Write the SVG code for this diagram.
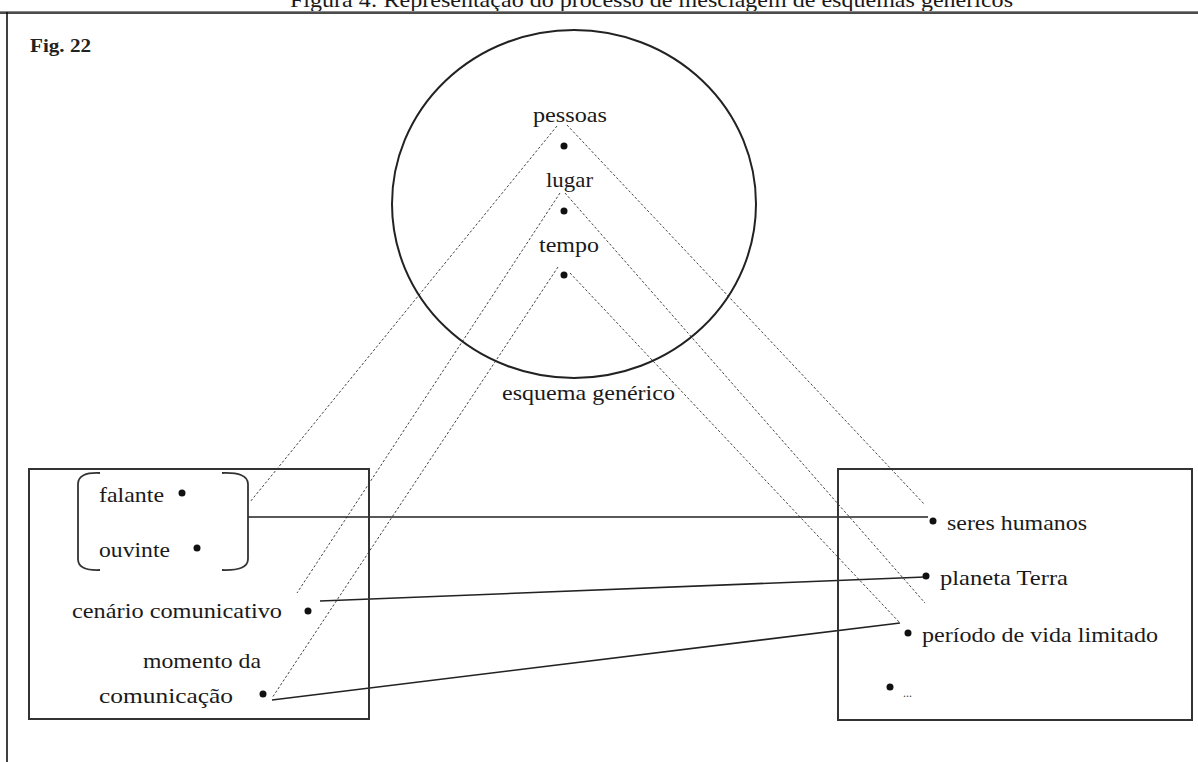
<svg xmlns="http://www.w3.org/2000/svg" width="1198" height="762" viewBox="0 0 1198 762">
<style>
.t{font-family:"Liberation Serif","Times New Roman",serif;font-size:21px;fill:#1a1a1a}
.dot{fill:#111}
.dash{stroke:#444;stroke-width:1;stroke-dasharray:2.5,2;fill:none}
.solid{stroke:#222;stroke-width:1.6;fill:none}
.box{stroke:#333;stroke-width:2;fill:none}
</style>
<rect width="1198" height="762" fill="#fff"/>
<text class="t" x="290" y="7" textLength="723" lengthAdjust="spacingAndGlyphs">Figura 4: Representação do processo de mesclagem de esquemas genéricos</text>
<g id="frame">
<line x1="0" y1="11.5" x2="1198" y2="11.5" stroke="#888" stroke-width="1"/>
<line x1="0" y1="13" x2="1198" y2="13" stroke="#111" stroke-width="1.6"/>
<line x1="7" y1="12" x2="7" y2="762" stroke="#111" stroke-width="1.6"/>
<text x="30" y="52" font-family="Liberation Serif,serif" font-weight="bold" font-size="18" fill="#222" textLength="61" lengthAdjust="spacingAndGlyphs">Fig. 22</text>
</g>
<g id="connectors">
<line class="dash" x1="557" y1="126" x2="250" y2="502"/>
<line class="dash" x1="567" y1="125" x2="925" y2="505"/>
<line class="dash" x1="560" y1="193" x2="297" y2="593"/>
<line class="dash" x1="565" y1="193" x2="925" y2="603"/>
<line class="dash" x1="558" y1="267" x2="272" y2="698"/>
<line class="dash" x1="570" y1="273" x2="900" y2="623"/>
<line class="solid" x1="248" y1="517" x2="928" y2="517"/>
<line class="solid" x1="320" y1="601" x2="925" y2="577"/>
<line class="solid" x1="272" y1="700" x2="900" y2="623"/>
</g>
<g id="esquema-generico">
<ellipse cx="574" cy="204" rx="182" ry="174" fill="none" stroke="#222" stroke-width="2"/>
<text class="t" x="533" y="122" textLength="74" lengthAdjust="spacingAndGlyphs">pessoas</text>
<circle class="dot" cx="564" cy="146" r="3.5"/>
<text class="t" x="546" y="187" textLength="47" lengthAdjust="spacingAndGlyphs">lugar</text>
<circle class="dot" cx="564" cy="211" r="3.5"/>
<text class="t" x="539" y="252" textLength="60" lengthAdjust="spacingAndGlyphs">tempo</text>
<circle class="dot" cx="564" cy="275" r="3.5"/>
<text class="t" x="502" y="400" textLength="173" lengthAdjust="spacingAndGlyphs">esquema genérico</text>
</g>
<g id="box-left">
<rect class="box" x="29" y="469" width="340" height="250"/>
<path d="M100 473 Q78 472 78 484 L78 559 Q78 571 100 570" fill="none" stroke="#333" stroke-width="1.8"/>
<path d="M222 473 Q248 472 248 484 L248 559 Q248 571 222 570" fill="none" stroke="#333" stroke-width="1.8"/>
<text class="t" x="99" y="502" textLength="65" lengthAdjust="spacingAndGlyphs">falante</text>
<circle class="dot" cx="182" cy="493" r="3.5"/>
<text class="t" x="99" y="557" textLength="71" lengthAdjust="spacingAndGlyphs">ouvinte</text>
<circle class="dot" cx="197" cy="548" r="3.5"/>
<text class="t" x="72" y="618" textLength="210" lengthAdjust="spacingAndGlyphs">cenário comunicativo</text>
<circle class="dot" cx="308" cy="611" r="3.5"/>
<text class="t" x="143" y="668" textLength="118" lengthAdjust="spacingAndGlyphs">momento da</text>
<text class="t" x="99" y="703" textLength="134" lengthAdjust="spacingAndGlyphs">comunicação</text>
<circle class="dot" cx="263" cy="694" r="3.5"/>
</g>
<g id="box-right">
<rect class="box" x="838" y="469" width="354" height="251"/>
<circle class="dot" cx="933" cy="521" r="3.5"/>
<text class="t" x="947" y="530" textLength="140" lengthAdjust="spacingAndGlyphs">seres humanos</text>
<circle class="dot" cx="926" cy="576" r="3.5"/>
<text class="t" x="940" y="585" textLength="128" lengthAdjust="spacingAndGlyphs">planeta Terra</text>
<circle class="dot" cx="908" cy="633" r="3.5"/>
<text class="t" x="922" y="642" textLength="236" lengthAdjust="spacingAndGlyphs">período de vida limitado</text>
<circle class="dot" cx="890" cy="687" r="3.5"/>
<text x="903" y="697" font-family="Liberation Serif,serif" font-size="12" fill="#444">...</text>
</g>
</svg>
